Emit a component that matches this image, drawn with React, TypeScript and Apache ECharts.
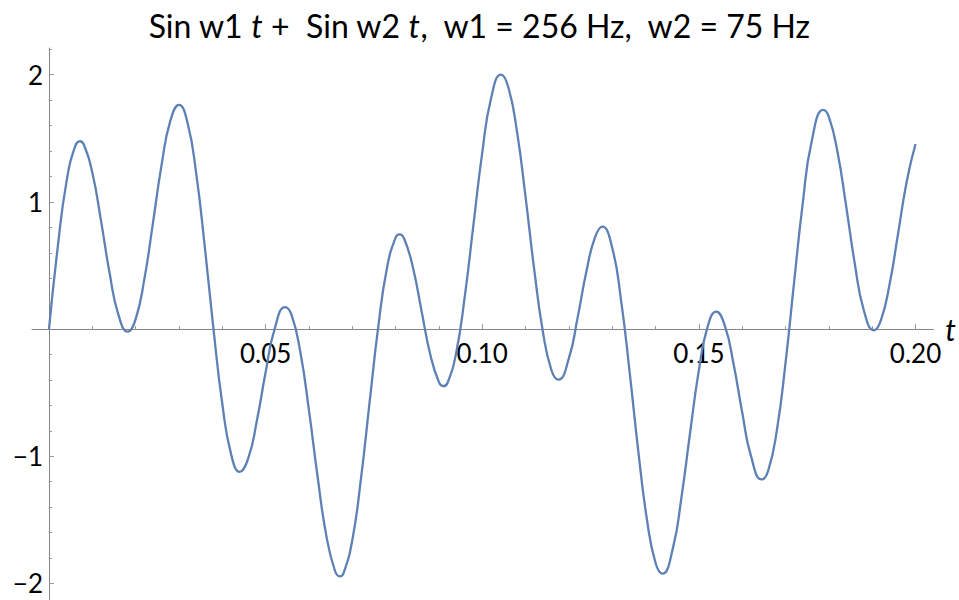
import React, { useEffect, useRef } from 'react';
import * as echarts from 'echarts';

// Sample times (s), including the turning points
const tValues = [
  0.000, 0.002, 0.004, 0.006, 0.00715, 0.008, 0.010, 0.012, 0.014, 0.016,
  0.01816, 0.020, 0.022, 0.024, 0.026, 0.028, 0.030, 0.032, 0.034, 0.036,
  0.038, 0.040, 0.042, 0.044, 0.046, 0.048, 0.050, 0.052, 0.0545, 0.056,
  0.058, 0.060, 0.062, 0.064, 0.066, 0.06713, 0.068, 0.070, 0.072, 0.074,
  0.076, 0.078, 0.080, 0.08091, 0.082, 0.084, 0.086, 0.088, 0.090, 0.09104,
  0.092, 0.094, 0.096, 0.098, 0.100, 0.102, 0.1043, 0.106, 0.108, 0.110,
  0.112, 0.114, 0.116, 0.1176, 0.120, 0.122, 0.124, 0.126, 0.1277, 0.130,
  0.132, 0.134, 0.136, 0.138, 0.140, 0.1416, 0.144, 0.146, 0.148, 0.150,
  0.152, 0.154, 0.156, 0.158, 0.160, 0.162, 0.1645, 0.166, 0.168, 0.170,
  0.172, 0.174, 0.176, 0.1787, 0.180, 0.182, 0.184, 0.186, 0.188, 0.1904,
  0.192, 0.194, 0.196, 0.198, 0.200,
];

// Signal values
const yValues = [
  0, 0.639, 1.150, 1.434, 1.477, 1.453, 1.231, 0.853, 0.439, 0.116,
  -0.020, 0.079, 0.391, 0.835, 1.293, 1.637, 1.763, 1.619, 1.218, 0.635,
  -0.011, -0.587, -0.979, -1.122, -1.014, -0.717, -0.340, -0.009, 0.172, 0.109,
  -0.178, -0.637, -1.161, -1.622, -1.900, -1.944, -1.918, -1.660, -1.178, -0.575,
  0.019, 0.479, 0.719, 0.744, 0.708, 0.485, 0.141, -0.200, -0.417, -0.449,
  -0.422, -0.183, 0.265, 0.831, 1.388, 1.809, 2.000, 1.903, 1.556, 1.037,
  0.467, -0.022, -0.326, -0.398, -0.229, 0.088, 0.447, 0.719, 0.805, 0.638,
  0.235, -0.334, -0.955, -1.495, -1.839, -1.923, -1.722, -1.317, -0.807, -0.323,
  0.017, 0.138, 0.025, -0.274, -0.656, -0.995, -1.182, -1.113, -0.794, -0.264,
  0.377, 0.998, 1.471, 1.723, 1.668, 1.391, 0.964, 0.510, 0.156, -0.009,
  0.068, 0.350, 0.756, 1.167, 1.455,
];

const xMajorTicks = [0.05, 0.1, 0.15, 0.2];
const xMinorTicks = [
  0.01, 0.02, 0.03, 0.04, 0.06, 0.07, 0.08, 0.09, 0.11, 0.12,
  0.13, 0.14, 0.16, 0.17, 0.18, 0.19,
];
const yMajorTicks = [-2, -1, 1, 2];
const yMinorTicks = [
  -1.8, -1.6, -1.4, -1.2, -0.8, -0.6, -0.4, -0.2,
  0.2, 0.4, 0.6, 0.8, 1.2, 1.4, 1.6, 1.8, 2.2,
];

const titleText = 'Sin w1 {i|t} +  Sin w2 {i|t},  w1 = 256 Hz,  w2 = 75 Hz';
const xAxisName = 't';

const FONT = 'Lato';
const AXIS_COLOR = '#858585';
const TICK_COLOR = '#9a9a9a';
const LINE_COLOR = '#5E81B5';

const W = 959;
const H = 600;
const X_MIN = -0.00392;
const X_MAX = 0.2041;
const Y_MIN = -2.13;
const Y_MAX = 2.21;

export default function App() {
  const ref = useRef<HTMLDivElement>(null);

  useEffect(() => {
    document.body.style.margin = '0';
    if (!ref.current) return;
    const chart = echarts.init(ref.current, undefined, { renderer: 'svg' });

    const L = 32;
    const R = 25.7;
    const T = 48;
    const B = 0;
    const plotW = W - L - R;
    const plotH = H - T - B;
    // pixel position of the origin (where the axes cross)
    const originX = L + ((0 - X_MIN) / (X_MAX - X_MIN)) * plotW;
    const originY = T + ((Y_MAX - 0) / (Y_MAX - Y_MIN)) * plotH;

    const base = { containLabel: false, outerBoundsMode: 'none' };
    const mainGrid = { ...base, left: L, right: R, top: T, bottom: B };
    const minorGrid = { ...base, left: L, right: R, top: T, bottom: B };
    // grid whose left edge sits on the y axis (for y tick labels)
    const yLabelGrid = { ...base, left: originX, right: R, top: T, bottom: B };
    // grid whose bottom edge sits on the x axis (for x tick labels)
    const xLabelGrid = { ...base, left: L, right: R, top: T, bottom: H - originY };

    const hiddenX = (gridIndex: number) => ({
      type: 'value', gridIndex, show: false, min: X_MIN, max: X_MAX,
    });
    const hiddenY = (gridIndex: number) => ({
      type: 'value', gridIndex, show: false, min: Y_MIN, max: Y_MAX,
    });

    chart.setOption({
      animation: false,
      backgroundColor: '#ffffff',
      title: {
        text: titleText,
        left: 'center',
        top: 4,
        textStyle: {
          fontFamily: FONT,
          fontSize: 32,
          fontWeight: 'normal',
          color: '#000',
          rich: {
            i: { fontFamily: FONT, fontSize: 32, fontStyle: 'italic', color: '#000' },
          },
        },
      },
      grid: [mainGrid, minorGrid, yLabelGrid, xLabelGrid],
      xAxis: [
        {
          type: 'value',
          gridIndex: 0,
          position: 'bottom',
          min: X_MIN,
          max: X_MAX,
          name: xAxisName,
          nameLocation: 'end',
          nameGap: 12,
          nameTextStyle: {
            fontFamily: FONT,
            fontStyle: 'italic',
            fontSize: 30,
            color: '#000',
            verticalAlign: 'middle',
            padding: [10, 0, 0, 0],
          },
          axisLine: { show: true, onZero: true, lineStyle: { color: AXIS_COLOR, width: 1 } },
          axisTick: {
            show: true,
            inside: true,
            length: 5,
            customValues: xMajorTicks,
            lineStyle: { color: TICK_COLOR, width: 1 },
          },
          axisLabel: { show: false },
          splitLine: { show: false },
        },
        {
          type: 'value',
          gridIndex: 1,
          position: 'bottom',
          min: X_MIN,
          max: X_MAX,
          axisLine: { show: false, onZero: true },
          axisTick: {
            show: true,
            inside: true,
            length: 3,
            customValues: xMinorTicks,
            lineStyle: { color: TICK_COLOR, width: 1 },
          },
          axisLabel: { show: false },
          splitLine: { show: false },
        },
        hiddenX(2),
        {
          type: 'value',
          gridIndex: 3,
          position: 'bottom',
          min: X_MIN,
          max: X_MAX,
          axisLine: { show: false, onZero: false },
          axisTick: { show: false },
          axisLabel: {
            show: true,
            customValues: xMajorTicks,
            margin: 11,
            fontFamily: FONT,
            fontSize: 26,
            color: '#000',
            formatter: (v: number) => v.toFixed(2),
          },
          splitLine: { show: false },
        },
      ],
      yAxis: [
        {
          type: 'value',
          gridIndex: 0,
          position: 'left',
          min: Y_MIN,
          max: Y_MAX,
          axisLine: { show: true, onZero: true, lineStyle: { color: AXIS_COLOR, width: 1 } },
          axisTick: {
            show: true,
            inside: true,
            length: 5,
            customValues: yMajorTicks,
            lineStyle: { color: TICK_COLOR, width: 1 },
          },
          axisLabel: { show: false },
          splitLine: { show: false },
        },
        {
          type: 'value',
          gridIndex: 1,
          position: 'left',
          min: Y_MIN,
          max: Y_MAX,
          axisLine: { show: false, onZero: true },
          axisTick: {
            show: true,
            inside: true,
            length: 3,
            customValues: yMinorTicks,
            lineStyle: { color: TICK_COLOR, width: 1 },
          },
          axisLabel: { show: false },
          splitLine: { show: false },
        },
        {
          type: 'value',
          gridIndex: 2,
          position: 'left',
          min: Y_MIN,
          max: Y_MAX,
          axisLine: { show: false, onZero: false },
          axisTick: { show: false },
          axisLabel: {
            show: true,
            customValues: yMajorTicks,
            margin: 6,
            fontFamily: FONT,
            fontSize: 26,
            color: '#000',
            formatter: (v: number) => (v < 0 ? '\u2212' + Math.abs(v) : String(v)),
          },
          splitLine: { show: false },
        },
        hiddenY(3),
      ],
      series: [
        {
          type: 'line',
          xAxisIndex: 0,
          yAxisIndex: 0,
          data: tValues.map((t, i) => [t, yValues[i]]),
          showSymbol: false,
          smooth: true,
          lineStyle: { color: LINE_COLOR, width: 2.3 },
        },
      ],
    });
    return () => chart.dispose();
  }, []);

  return <div ref={ref} style={{ width: W, height: H }} />;
}
